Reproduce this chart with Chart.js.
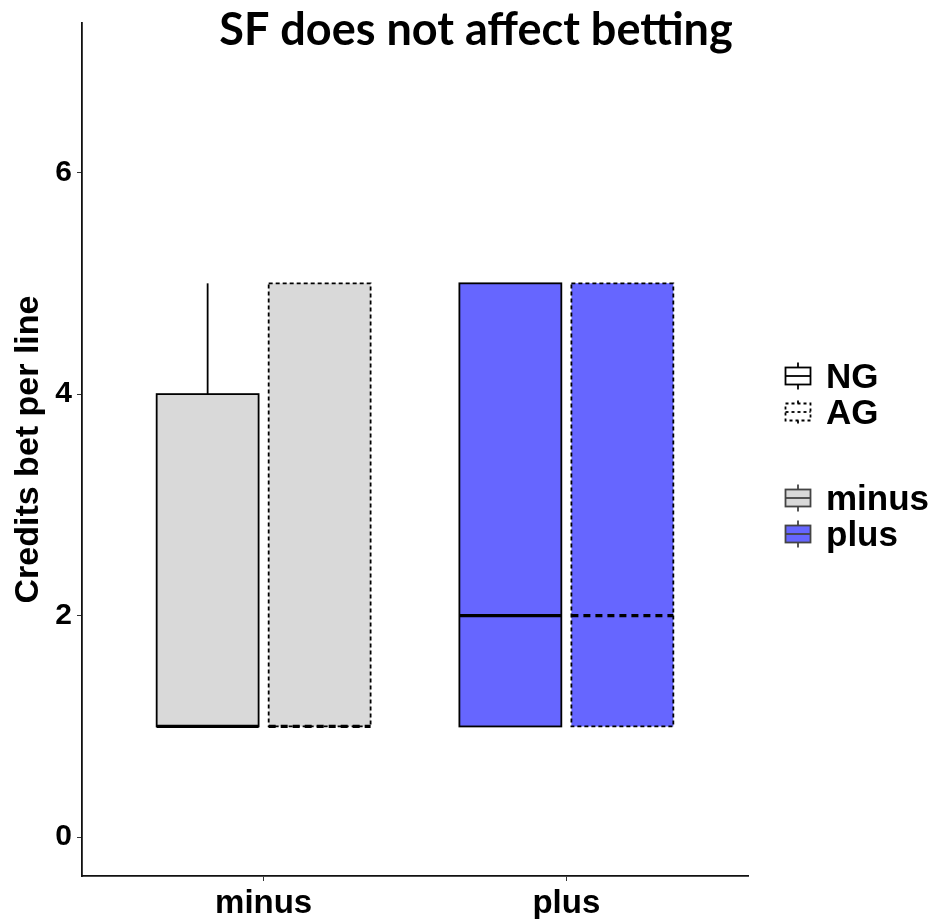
<!DOCTYPE html>
<html>
<head>
<meta charset="utf-8">
<script src="https://cdn.jsdelivr.net/npm/chart.js@4.4.1/dist/chart.umd.min.js"></script>
<style>
  html, body { margin: 0; padding: 0; background: #ffffff; }
  #wrap { width: 938px; height: 919px; position: relative; }
</style>
</head>
<body>
<div id="wrap"><canvas id="chart" width="938" height="919"></canvas></div>
<script>
// Groups on the x axis and the two game conditions drawn side by side
const categories = ['minus', 'plus'];
const groups = ['NG', 'AG'];
// Five-number summaries per category: [min, q1, median, q3, max]
const ngStats = [[1, 1, 1, 4, 5], [1, 1, 2, 5, 5]];
const agStats = [[1, 1, 1, 5, 5], [1, 1, 2, 5, 5]];
const yTicks = [0, 2, 4, 6];
const xPositions = [1, 2];

const fillColors = ['#d9d9d9', '#6666ff'];
const titleText = 'SF does not affect betting';
const yTitleText = 'Credits bet per line';

const SANS = '"Liberation Sans", Arial, sans-serif';

function boxDataset(label, stats, boxDash, medianDash) {
  return {
    label: label,
    data: stats.map((s, i) => ({ x: xPositions[i], y: [s[1], s[3]] })),
    backgroundColor: fillColors,
    borderWidth: 0,
    stats: stats,
    boxDash: boxDash,
    medianDash: medianDash,
    categoryPercentage: 0.74,
    barPercentage: 0.91
  };
}

function line(ctx, x1, y1, x2, y2) {
  ctx.beginPath();
  ctx.moveTo(x1, y1);
  ctx.lineTo(x2, y2);
  ctx.stroke();
}

// Box outlines, medians and whiskers on top of the floating bars
const boxOutlines = {
  id: 'boxOutlines',
  afterDatasetsDraw(chart) {
    const ctx = chart.ctx;
    const ys = chart.scales.y;
    chart.data.datasets.forEach((ds, di) => {
      const meta = chart.getDatasetMeta(di);
      meta.data.forEach((bar, i) => {
        const [mn, q1, md, q3, mx] = ds.stats[i];
        const half = bar.width / 2;
        const left = bar.x - half, right = bar.x + half;
        const yMin = ys.getPixelForValue(mn), yQ1 = ys.getPixelForValue(q1);
        const yMd = ys.getPixelForValue(md), yQ3 = ys.getPixelForValue(q3);
        const yMax = ys.getPixelForValue(mx);
        ctx.save();
        ctx.strokeStyle = '#000';
        ctx.lineWidth = 1.8;
        ctx.setLineDash(ds.boxDash);
        if (mx > q3) line(ctx, bar.x, yQ3, bar.x, yMax);
        if (mn < q1) line(ctx, bar.x, yQ1, bar.x, yMin);
        ctx.strokeRect(left, yQ3, right - left, yQ1 - yQ3);
        ctx.lineWidth = 3.2;
        ctx.setLineDash(ds.medianDash);
        line(ctx, left, yMd, right, yMd);
        ctx.restore();
      });
    });
  }
};

// Plot title and the two-part legend at the right
const decorations = {
  id: 'decorations',
  afterDraw(chart) {
    const ctx = chart.ctx;
    ctx.save();
    ctx.fillStyle = '#000';
    ctx.textAlign = 'center';
    ctx.textBaseline = 'alphabetic';
    ctx.font = 'bold 45px Lato, "Open Sans", sans-serif';
    ctx.fillText(titleText, 476, 45);

    const legendItems = [
      { label: groups[0], fill: '#ffffff', stroke: '#000', dash: [], cy: 376 },
      { label: groups[1], fill: '#ffffff', stroke: '#000', dash: [3, 3], cy: 412 },
      { label: categories[0], fill: fillColors[0], stroke: '#444', dash: [], cy: 498 },
      { label: categories[1], fill: fillColors[1], stroke: '#444', dash: [], cy: 534 }
    ];
    const gx = 798, gw = 25, gh = 17;
    legendItems.forEach(it => {
      ctx.save();
      ctx.strokeStyle = it.stroke;
      ctx.lineWidth = 1.8;
      ctx.setLineDash(it.dash);
      ctx.fillStyle = it.fill;
      ctx.fillRect(gx - gw / 2, it.cy - gh / 2, gw, gh);
      ctx.strokeRect(gx - gw / 2, it.cy - gh / 2, gw, gh);
      line(ctx, gx - gw / 2, it.cy, gx + gw / 2, it.cy);
      line(ctx, gx, it.cy - gh / 2, gx, it.cy - gh / 2 - 5);
      line(ctx, gx, it.cy + gh / 2, gx, it.cy + gh / 2 + 5);
      ctx.restore();
      ctx.font = 'bold 35px ' + SANS;
      ctx.textAlign = 'left';
      ctx.fillStyle = '#000';
      ctx.fillText(it.label, 826, it.cy + 12);
    });
    ctx.restore();
  }
};

new Chart(document.getElementById('chart'), {
  type: 'bar',
  data: {
    datasets: [
      boxDataset(groups[0], ngStats, [], []),
      boxDataset(groups[1], agStats, [4, 3], [7, 5])
    ]
  },
  options: {
    responsive: false,
    animation: false,
    devicePixelRatio: 1,
    layout: { padding: { left: 0, right: 190, top: 22, bottom: 0 } },
    plugins: { legend: { display: false }, title: { display: false }, tooltip: { enabled: false } },
    scales: {
      x: {
        type: 'linear',
        min: 0.4,
        max: 2.6,
        offset: false,
        afterFit(scale) { scale.height = 43; },
        afterBuildTicks(scale) { scale.ticks = xPositions.map(v => ({ value: v })); },
        grid: { display: true, drawOnChartArea: false, drawTicks: true, tickLength: 5, color: '#333', offset: false },
        border: { display: true, color: '#111', width: 1.8 },
        ticks: {
          padding: 3,
          color: '#000',
          font: { family: SANS, size: 33, weight: 'bold' },
          callback: (v) => categories[xPositions.indexOf(v)]
        }
      },
      y: {
        min: -0.35,
        max: 7.35,
        afterFit(scale) { scale.width = 82; },
        afterBuildTicks(scale) { scale.ticks = yTicks.map(v => ({ value: v })); },
        grid: { display: true, drawOnChartArea: false, drawTicks: true, tickLength: 5, color: '#333' },
        border: { display: true, color: '#111', width: 1.8 },
        ticks: {
          padding: 5,
          color: '#000',
          font: { family: SANS, size: 30, weight: 'bold' }
        },
        title: {
          display: true,
          text: yTitleText,
          color: '#000',
          font: { family: SANS, size: 34, weight: 'bold' },
          padding: { top: 8, bottom: 0 }
        }
      }
    }
  },
  plugins: [boxOutlines, decorations]
});
</script>
</body>
</html>
